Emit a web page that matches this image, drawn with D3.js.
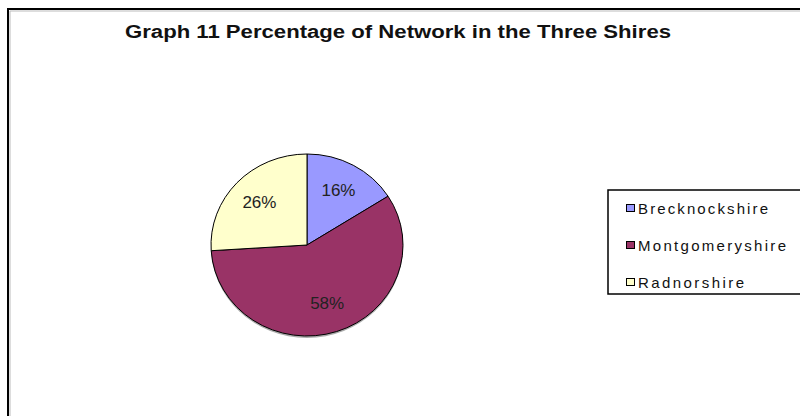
<!DOCTYPE html>
<html>
<head>
<meta charset="utf-8">
<script src="https://cdn.jsdelivr.net/npm/d3@7"></script>
<style>
  html, body { margin: 0; padding: 0; background: #fff; }
  svg { display: block; font-family: "Liberation Sans", Arial, sans-serif; }
</style>
</head>
<body>
<svg id="chart" width="800" height="416"></svg>
<script>
const categories = ["Brecknockshire", "Montgomeryshire", "Radnorshire"];
const values = [16, 58, 26];
const labels = ["16%", "58%", "26%"];
const colors = ["#9999FF", "#993366", "#FFFFCC"];
const title = "Graph  11 Percentage of Network in the Three Shires";

const svg = d3.select("#chart");
const W = 800, H = 416;

// outer frame (cut off at right and bottom)
svg.append("rect").attr("x", 8).attr("y", 9).attr("width", W + 10).attr("height", H + 10)
  .attr("fill", "#fff").attr("stroke", "#000").attr("stroke-width", 2);
svg.append("path").attr("d", `M10,${H + 5}V11H${W + 5}`)
  .attr("fill", "none").attr("stroke", "#bbb").attr("stroke-width", 1);

// title
svg.append("text").attr("x", 398).attr("y", 38).attr("text-anchor", "middle")
  .attr("font-size", 18).attr("font-weight", "bold").attr("fill", "#111")
  .attr("textLength", 546).attr("lengthAdjust", "spacingAndGlyphs")
  .text(title);

// pie
const cx = 307, cy = 245, rx = 96, ry = 91;
const pie = d3.pie().sort(null).value(d => d)(values);
const arc = d3.arc().innerRadius(0).outerRadius(rx);
const labelArc = d3.arc().innerRadius(rx * 0.68).outerRadius(rx * 0.68);

const g = svg.append("g").attr("transform", `translate(${cx},${cy}) scale(1,${ry / rx})`);
// subtle shadow
g.append("ellipse").attr("cx", 0).attr("cy", 2).attr("rx", rx).attr("ry", rx)
  .attr("fill", "#555").attr("opacity", 0.5);
g.selectAll("path.slice").data(pie).join("path").attr("class", "slice")
  .attr("d", arc).attr("fill", (d, i) => colors[i])
  .attr("stroke", "#000").attr("stroke-width", 1).attr("vector-effect", "non-scaling-stroke");

svg.selectAll("text.lbl").data(pie).join("text").attr("class", "lbl")
  .attr("x", d => cx + labelArc.centroid(d)[0])
  .attr("y", d => cy + labelArc.centroid(d)[1] * ry / rx)
  .attr("text-anchor", "middle").attr("dominant-baseline", "central")
  .attr("font-size", 17).attr("fill", "#222")
  .text((d, i) => labels[i]);

// legend
const lg = svg.append("g");
lg.append("rect").attr("x", 608).attr("y", 190).attr("width", 200).attr("height", 104)
  .attr("fill", "#fff").attr("stroke", "#000").attr("stroke-width", 1.5);
const ly = d3.scalePoint().domain(categories).range([208, 282]);
const legendWidths = [130, 148, 106];
const items = lg.selectAll("g.item").data(categories).join("g").attr("class", "item")
  .attr("transform", d => `translate(626,${ly(d)})`);
items.append("rect").attr("x", 0.5).attr("y", -3.5).attr("width", 8).attr("height", 7)
  .attr("fill", (d, i) => colors[i]).attr("stroke", "#000").attr("stroke-width", 1);
items.append("text").attr("x", 12).attr("y", 0).attr("dominant-baseline", "central")
  .attr("font-size", 15).attr("fill", "#111")
  .attr("textLength", (d, i) => legendWidths[i]).attr("lengthAdjust", "spacing")
  .text(d => d);
</script>
</body>
</html>
